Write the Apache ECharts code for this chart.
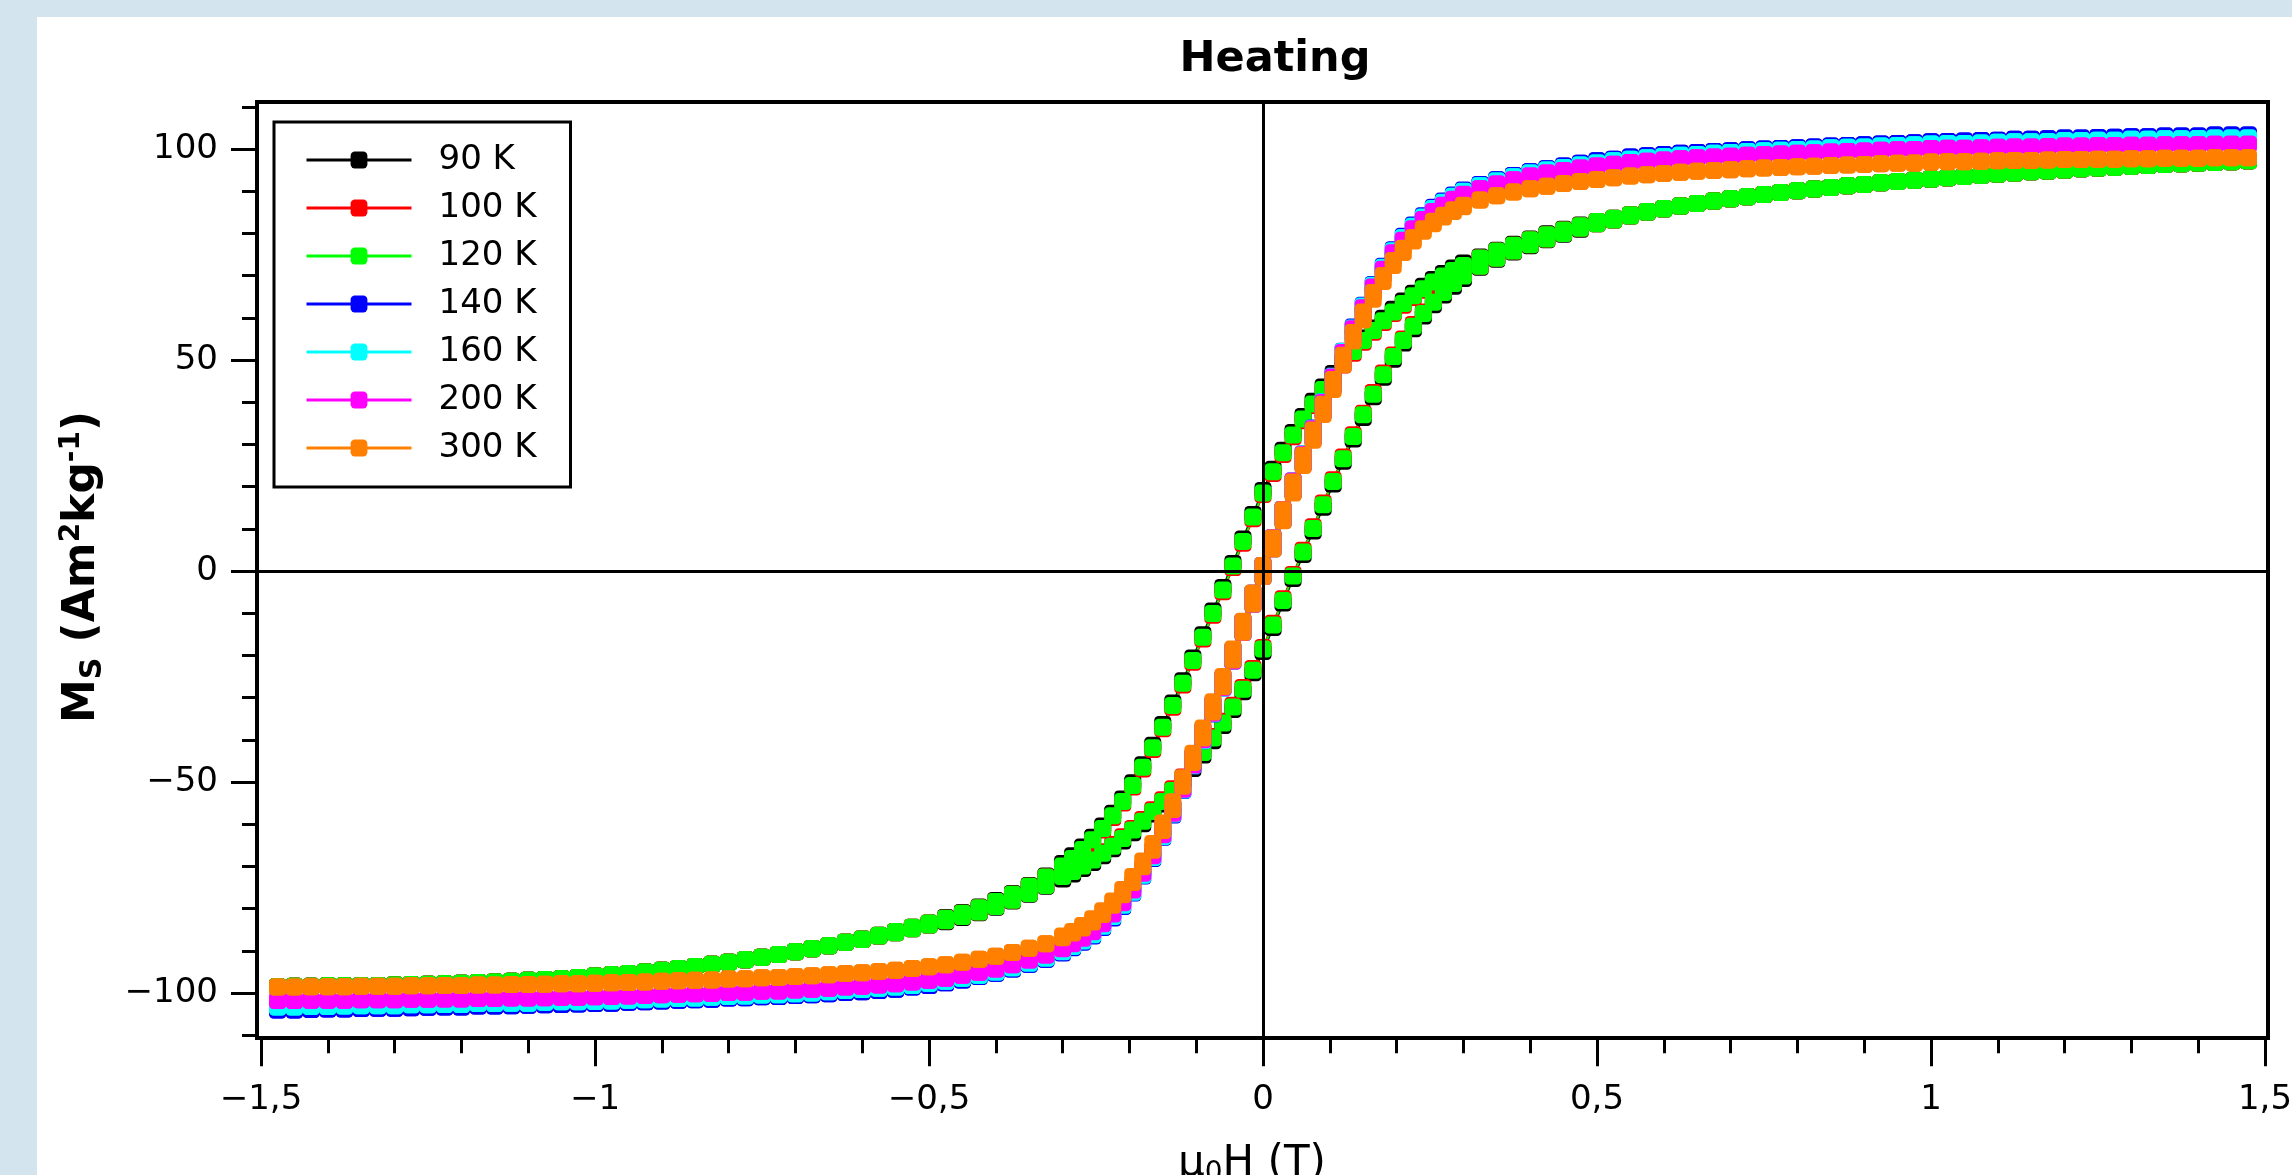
<!DOCTYPE html>
<html>
<head>
<meta charset="utf-8">
<script src="https://cdn.jsdelivr.net/npm/echarts@6/dist/echarts.min.js"></script>
<style>
html,body{margin:0;padding:0;background:#ffffff;}
#chart{width:2292px;height:1175px;}
</style>
</head>
<body>
<div id="chart"></div>
<script>
// ---------------- DATA ----------------
const temperatureLabels = ['90 K', '100 K', '120 K', '140 K', '160 K', '200 K', '300 K'];
const seriesColors = ['#000000', '#ff0000', '#00ff00', '#0000ff', '#00ffff', '#ff00ff', '#ff8000'];
const xTickStep = 0.5;
const yMajorTicks = [-100, -50, 0, 50, 100];

// applied field mu0H (T), ascending; 35 outer-negative, 65 middle, 35 outer-positive
const fieldT = [
-1.475,-1.45,-1.425,-1.4,-1.375,-1.35,-1.325,-1.3,-1.275,-1.25,-1.225,-1.2,-1.175,-1.15,-1.125,-1.1,-1.075,-1.05,-1.025,-1,
-0.975,-0.95,-0.925,-0.9,-0.875,-0.85,-0.825,-0.8,-0.775,-0.75,-0.725,-0.7,-0.675,-0.65,-0.625,
-0.6,-0.575,-0.55,-0.525,-0.5,-0.475,-0.45,-0.425,-0.4,-0.375,-0.35,-0.325,
-0.3,-0.285,-0.27,-0.255,-0.24,-0.225,-0.21,-0.195,-0.18,-0.165,-0.15,-0.135,-0.12,-0.105,-0.09,-0.075,-0.06,-0.045,-0.03,-0.015,
0,0.015,0.03,0.045,0.06,0.075,0.09,0.105,0.12,0.135,0.15,0.165,0.18,0.195,0.21,0.225,0.24,0.255,0.27,0.285,0.3,
0.325,0.35,0.375,0.4,0.425,0.45,0.475,0.5,0.525,0.55,0.575,0.6,
0.625,0.65,0.675,0.7,0.725,0.75,0.775,0.8,0.825,0.85,0.875,0.9,0.925,0.95,0.975,1,1.025,1.05,1.075,1.1,1.125,1.15,1.175,1.2,1.225,1.25,1.275,1.3,1.325,1.35,1.375,1.4,1.425,1.45,1.475
];

// ----- 90 K -----
const m90kOuterNeg = [-98.5,-98.4,-98.4,-98.3,-98.3,-98.2,-98.2,-98.1,-98.0,-97.9,-97.8,-97.7,-97.5,-97.4,-97.2,-97.0,-96.8,-96.6,-96.3,-96.0,-95.7,-95.4,-95.0,-94.6,-94.2,-93.7,-93.2,-92.7,-92.1,-91.5,-90.9,-90.2,-89.5,-88.8,-88.0];
const m90kDescMid = [-87.2,-86.3,-85.4,-84.4,-83.4,-82.1,-80.9,-79.6,-78.1,-76.4,-74.5,-72.3,
-69.3,-67.5,-65.4,-63.1,-60.4,-57.4,-54.0,-50.2,-45.9,-41.3,-36.4,-31.3,-26.0,-20.6,-15.1,-9.5,-3.9,1.8,7.6,13.4,
19.1,24.1,28.6,32.8,36.6,40.2,43.6,46.8,49.8,52.6,55.2,57.6,59.9,62.0,64.0,65.8,67.5,69.1,70.5,71.8,73.0,
74.4,76.0,77.4,78.7,79.9,81.0,82.0,82.8,83.6,84.4,85.2,85.9];
const m90kAscMid = [-87.3,-86.5,-85.7,-84.8,-83.9,-83.1,-82.1,-81.0,-79.7,-78.2,-76.6,-74.7,
-73.0,-71.8,-70.5,-69.1,-67.5,-65.8,-64.0,-62.0,-59.9,-57.6,-55.2,-52.6,-49.8,-46.8,-43.6,-40.2,-36.6,-32.8,-28.6,-24.1,
-19.1,-13.4,-7.6,-1.8,3.9,9.5,15.1,20.6,26.0,31.3,36.4,41.3,45.9,50.2,54.0,57.4,60.4,63.1,65.4,67.5,69.3,
72.0,73.9,75.6,77.1,78.5,79.8,81.0,82.3,83.2,84.1,85.0,85.8];
const m90kOuterPos = [86.5,87.1,87.7,88.2,88.7,89.2,89.7,90.1,90.5,90.9,91.3,91.6,92.0,92.3,92.6,92.9,93.2,93.5,93.8,94.1,94.3,94.6,94.8,95.0,95.3,95.5,95.7,95.9,96.1,96.3,96.5,96.7,96.8,97.0,97.2];

// ----- 100 K -----
const m100kOuterNeg = [-98.5,-98.4,-98.4,-98.3,-98.3,-98.2,-98.2,-98.1,-98.0,-97.9,-97.8,-97.7,-97.5,-97.4,-97.2,-97.0,-96.8,-96.6,-96.3,-96.0,-95.7,-95.4,-95.0,-94.6,-94.2,-93.7,-93.2,-92.7,-92.1,-91.5,-90.9,-90.2,-89.5,-88.8,-88.0];
const m100kDescMid = [-87.2,-86.3,-85.4,-84.4,-83.4,-82.3,-81.1,-79.8,-78.3,-76.6,-74.7,-72.5,
-70.3,-68.5,-66.4,-64.1,-61.4,-58.4,-55.0,-51.2,-46.9,-42.3,-37.4,-32.3,-27.0,-21.6,-16.1,-10.5,-4.9,0.8,6.6,12.4,
18.1,23.1,27.6,31.8,35.6,39.2,42.6,45.8,48.8,51.6,54.2,56.6,58.9,61.0,63.0,64.8,66.5,68.1,69.5,70.8,72.0,
74.2,75.8,77.2,78.5,79.7,80.8,81.8,82.8,83.6,84.4,85.2,85.9];
const m100kAscMid = [-87.3,-86.5,-85.7,-84.8,-83.9,-82.9,-81.9,-80.8,-79.5,-78.0,-76.4,-74.5,
-72.0,-70.8,-69.5,-68.1,-66.5,-64.8,-63.0,-61.0,-58.9,-56.6,-54.2,-51.6,-48.8,-45.8,-42.6,-39.2,-35.6,-31.8,-27.6,-23.1,
-18.1,-12.4,-6.6,-0.8,4.9,10.5,16.1,21.6,27.0,32.3,37.4,42.3,46.9,51.2,55.0,58.4,61.4,64.1,66.4,68.5,70.3,
72.2,74.1,75.8,77.3,78.7,80.0,81.2,82.3,83.2,84.1,85.0,85.8];
const m100kOuterPos = [86.5,87.1,87.7,88.2,88.7,89.2,89.7,90.1,90.5,90.9,91.3,91.6,92.0,92.3,92.6,92.9,93.2,93.5,93.8,94.1,94.3,94.6,94.8,95.0,95.3,95.5,95.7,95.9,96.1,96.3,96.5,96.7,96.8,97.0,97.2];

// ----- 120 K -----
const m120kOuterNeg = [-98.5,-98.4,-98.4,-98.3,-98.3,-98.2,-98.2,-98.1,-98.0,-97.9,-97.8,-97.7,-97.5,-97.4,-97.2,-97.0,-96.8,-96.6,-96.3,-96.0,-95.7,-95.4,-95.0,-94.6,-94.2,-93.7,-93.2,-92.7,-92.1,-91.5,-90.9,-90.2,-89.5,-88.8,-88.0];
const m120kDescMid = [-87.2,-86.3,-85.4,-84.4,-83.4,-82.3,-81.1,-79.8,-78.3,-76.6,-74.7,-72.5,
-69.9,-68.1,-66.0,-63.7,-61.0,-58.0,-54.6,-50.8,-46.5,-41.9,-37.0,-31.9,-26.6,-21.2,-15.7,-10.1,-4.5,1.2,7.0,12.8,
18.5,23.5,28.0,32.2,36.0,39.6,43.0,46.2,49.2,52.0,54.6,57.0,59.3,61.4,63.4,65.2,66.9,68.5,69.9,71.2,72.4,
74.2,75.8,77.2,78.5,79.7,80.8,81.8,82.8,83.6,84.4,85.2,85.9];
const m120kAscMid = [-87.3,-86.5,-85.7,-84.8,-83.9,-82.9,-81.9,-80.8,-79.5,-78.0,-76.4,-74.5,
-72.4,-71.2,-69.9,-68.5,-66.9,-65.2,-63.4,-61.4,-59.3,-57.0,-54.6,-52.0,-49.2,-46.2,-43.0,-39.6,-36.0,-32.2,-28.0,-23.5,
-18.5,-12.8,-7.0,-1.2,4.5,10.1,15.7,21.2,26.6,31.9,37.0,41.9,46.5,50.8,54.6,58.0,61.0,63.7,66.0,68.1,69.9,
72.2,74.1,75.8,77.3,78.7,80.0,81.2,82.3,83.2,84.1,85.0,85.8];
const m120kOuterPos = [86.5,87.1,87.7,88.2,88.7,89.2,89.7,90.1,90.5,90.9,91.3,91.6,92.0,92.3,92.6,92.9,93.2,93.5,93.8,94.1,94.3,94.6,94.8,95.0,95.3,95.5,95.7,95.9,96.1,96.3,96.5,96.7,96.8,97.0,97.2];

// ----- 140 K -----
const m140kOuterNeg = [-104.0,-104.0,-103.9,-103.8,-103.8,-103.7,-103.6,-103.6,-103.5,-103.4,-103.3,-103.3,-103.1,-103.1,-103.0,-102.9,-102.8,-102.7,-102.6,-102.5,-102.4,-102.2,-102.1,-101.9,-101.7,-101.6,-101.5,-101.2,-101.1,-100.9,-100.8,-100.6,-100.4,-100.2,-99.9];
const m140kDescMid = [-99.7,-99.4,-99.1,-98.6,-98.2,-97.6,-96.9,-96.1,-95.3,-94.3,-93.2,-92.0,
-90.1,-88.9,-87.4,-85.7,-83.6,-81.2,-78.3,-74.9,-70.9,-66.5,-61.3,-56.0,-50.0,-44.0,-37.8,-31.5,-25.3,-18.7,-12.0,-5.3,
1.3,7.9,14.6,21.3,27.7,33.9,40.1,46.2,52.1,57.8,63.0,67.9,72.2,76.1,79.3,82.0,84.2,86.2,87.7,89.1,90.3,
91.6,92.7,93.7,94.6,95.3,96.0,96.6,97.2,97.6,98.1,98.4,98.7];
const m140kAscMid = [-99.7,-99.4,-99.1,-98.6,-98.2,-97.6,-96.9,-96.1,-95.3,-94.3,-93.2,-92.0,
-90.5,-89.3,-88.0,-86.5,-84.5,-82.2,-79.5,-76.3,-72.3,-68.1,-63.1,-57.8,-52.0,-46.2,-40.2,-33.9,-27.7,-21.3,-14.6,-7.9,
-1.3,5.3,12.0,18.7,25.3,31.5,37.7,43.8,49.9,55.8,61.1,66.3,70.8,74.9,78.3,81.2,83.6,85.6,87.3,88.7,89.9,
91.6,92.7,93.7,94.6,95.3,96.0,96.6,97.2,97.6,98.1,98.4,98.7];
const m140kOuterPos = [99.0,99.2,99.4,99.6,99.8,100.0,100.1,100.3,100.5,100.7,100.8,101.0,101.2,101.3,101.5,101.7,101.8,101.9,102.0,102.1,102.3,102.3,102.4,102.6,102.6,102.7,102.8,102.9,102.9,103.1,103.1,103.1,103.3,103.3,103.3];

// ----- 160 K -----
const m160kOuterNeg = [-103.3,-103.3,-103.2,-103.2,-103.1,-103.0,-103.0,-103.0,-102.8,-102.8,-102.7,-102.7,-102.5,-102.5,-102.4,-102.4,-102.2,-102.1,-102.1,-102.0,-101.9,-101.7,-101.6,-101.4,-101.3,-101.2,-101.0,-100.8,-100.7,-100.5,-100.4,-100.2,-100.0,-99.7,-99.4];
const m160kDescMid = [-99.2,-98.9,-98.6,-98.2,-97.7,-97.2,-96.5,-95.8,-95.0,-94.0,-92.9,-91.7,
-89.8,-88.6,-87.1,-85.4,-83.3,-80.9,-78.0,-74.7,-70.7,-66.3,-61.1,-55.8,-49.9,-43.9,-37.8,-31.4,-25.3,-18.7,-12.0,-5.3,
1.3,7.9,14.6,21.3,27.7,33.8,40.1,46.1,52.0,57.6,62.8,67.7,72.0,75.9,79.0,81.7,83.9,85.9,87.4,88.8,90.0,
91.3,92.4,93.4,94.3,95.0,95.6,96.2,96.7,97.2,97.6,97.9,98.2];
const m160kAscMid = [-99.2,-98.9,-98.6,-98.2,-97.7,-97.2,-96.5,-95.8,-95.0,-94.0,-92.9,-91.7,
-90.2,-89.0,-87.7,-86.2,-84.2,-81.9,-79.2,-76.1,-72.1,-67.9,-62.9,-57.6,-51.9,-46.1,-40.2,-33.8,-27.7,-21.3,-14.6,-7.9,
-1.3,5.3,12.0,18.7,25.3,31.4,37.7,43.7,49.8,55.6,60.9,66.1,70.6,74.7,78.0,80.9,83.3,85.3,87.0,88.4,89.6,
91.3,92.4,93.4,94.3,95.0,95.6,96.2,96.7,97.2,97.6,97.9,98.2];
const m160kOuterPos = [98.5,98.7,99.0,99.2,99.4,99.6,99.7,99.9,100.0,100.3,100.4,100.5,100.7,100.8,101.0,101.2,101.3,101.3,101.4,101.6,101.7,101.7,101.8,102.0,102.0,102.1,102.1,102.3,102.3,102.4,102.4,102.5,102.6,102.6,102.6];

// ----- 200 K -----
const m200kOuterNeg = [-101.8,-101.8,-101.7,-101.7,-101.7,-101.6,-101.6,-101.6,-101.5,-101.5,-101.4,-101.4,-101.3,-101.3,-101.2,-101.2,-101.1,-101.0,-101.0,-100.9,-100.8,-100.7,-100.6,-100.4,-100.3,-100.2,-100.1,-99.9,-99.8,-99.6,-99.5,-99.3,-99.1,-98.9,-98.6];
const m200kDescMid = [-98.4,-98.1,-97.8,-97.4,-97.0,-96.5,-95.8,-95.1,-94.3,-93.3,-92.2,-91.0,
-89.1,-87.9,-86.4,-84.7,-82.7,-80.3,-77.4,-74.2,-70.2,-65.9,-60.7,-55.6,-49.7,-43.8,-37.6,-31.3,-25.2,-18.7,-12.0,-5.3,
1.3,7.9,14.6,21.3,27.6,33.7,39.9,46.0,51.8,57.4,62.4,67.3,71.5,75.4,78.4,81.1,83.3,85.2,86.7,88.1,89.3,
90.6,91.7,92.7,93.6,94.3,94.9,95.5,96.0,96.4,96.8,97.1,97.4];
const m200kAscMid = [-98.4,-98.1,-97.8,-97.4,-97.0,-96.5,-95.8,-95.1,-94.3,-93.3,-92.2,-91.0,
-89.5,-88.3,-87.0,-85.5,-83.6,-81.3,-78.6,-75.6,-71.6,-67.5,-62.5,-57.4,-51.7,-46.0,-40.0,-33.7,-27.6,-21.3,-14.6,-7.9,
-1.3,5.3,12.0,18.7,25.2,31.3,37.5,43.6,49.6,55.4,60.5,65.7,70.1,74.2,77.4,80.3,82.7,84.6,86.3,87.7,88.9,
90.6,91.7,92.7,93.6,94.3,94.9,95.5,96.0,96.4,96.8,97.1,97.4];
const m200kOuterPos = [97.7,97.9,98.1,98.3,98.5,98.7,98.8,99.0,99.1,99.3,99.4,99.5,99.7,99.8,99.9,100.1,100.2,100.2,100.3,100.4,100.5,100.5,100.6,100.7,100.7,100.8,100.8,100.9,100.9,101.0,101.0,101.0,101.1,101.1,101.1];

// ----- 300 K -----
const m300kOuterNeg = [-98.6,-98.6,-98.5,-98.5,-98.5,-98.4,-98.4,-98.4,-98.3,-98.3,-98.2,-98.2,-98.1,-98.1,-98.0,-98.0,-97.9,-97.8,-97.8,-97.7,-97.6,-97.5,-97.4,-97.2,-97.1,-97.0,-96.9,-96.7,-96.6,-96.4,-96.3,-96.1,-95.9,-95.7,-95.4];
const m300kDescMid = [-95.2,-94.9,-94.6,-94.2,-93.8,-93.3,-92.7,-92.0,-91.3,-90.4,-89.4,-88.3,
-86.5,-85.4,-84.0,-82.4,-80.5,-78.2,-75.5,-72.4,-68.7,-64.6,-59.7,-54.7,-49.0,-43.2,-37.2,-31.0,-25.0,-18.5,-11.9,-5.2,
1.3,7.8,14.5,21.1,27.4,33.4,39.5,45.4,51.1,56.5,61.4,66.0,70.0,73.6,76.5,79.0,81.1,82.9,84.3,85.6,86.7,
87.9,88.9,89.8,90.6,91.2,91.8,92.3,92.8,93.2,93.6,93.9,94.2];
const m300kAscMid = [-95.2,-94.9,-94.6,-94.2,-93.8,-93.3,-92.7,-92.0,-91.3,-90.4,-89.4,-88.3,
-86.9,-85.8,-84.6,-83.2,-81.4,-79.2,-76.7,-73.8,-70.1,-66.2,-61.5,-56.5,-51.0,-45.4,-39.6,-33.4,-27.4,-21.1,-14.5,-7.8,
-1.3,5.2,11.9,18.5,25.0,31.0,37.1,43.0,48.9,54.5,59.5,64.4,68.6,72.4,75.5,78.2,80.5,82.3,83.9,85.2,86.3,
87.9,88.9,89.8,90.6,91.2,91.8,92.3,92.8,93.2,93.6,93.9,94.2];
const m300kOuterPos = [94.5,94.7,94.9,95.1,95.3,95.5,95.6,95.8,95.9,96.1,96.2,96.3,96.5,96.6,96.7,96.9,97.0,97.0,97.1,97.2,97.3,97.3,97.4,97.5,97.5,97.6,97.6,97.7,97.7,97.8,97.8,97.8,97.9,97.9,97.9];

// ---------------- BUILD ----------------
const loopParts = [
  [m90kOuterNeg, m90kDescMid, m90kAscMid, m90kOuterPos],
  [m100kOuterNeg, m100kDescMid, m100kAscMid, m100kOuterPos],
  [m120kOuterNeg, m120kDescMid, m120kAscMid, m120kOuterPos],
  [m140kOuterNeg, m140kDescMid, m140kAscMid, m140kOuterPos],
  [m160kOuterNeg, m160kDescMid, m160kAscMid, m160kOuterPos],
  [m200kOuterNeg, m200kDescMid, m200kAscMid, m200kOuterPos],
  [m300kOuterNeg, m300kDescMid, m300kAscMid, m300kOuterPos]
];

function branch(values) {
  if (values.length !== fieldT.length) throw new Error('length mismatch ' + values.length);
  return fieldT.map((h, i) => [h, values[i]]);
}
function loopPoints(p) {
  const desc = branch(p[0].concat(p[1], p[3])).reverse(); // +H -> -H
  const asc = branch(p[0].concat(p[2], p[3]));            // -H -> +H
  return desc.concat(asc);
}
function decimalComma(v) {
  const r = Math.round(v * 10) / 10;
  const s = String(Math.abs(r)).replace('.', ',');
  return (r < 0 ? '\u2212' : '') + s;
}

const FONT = 'DejaVu Sans';
const chart = echarts.init(document.getElementById('chart'), null, {renderer: 'canvas'});

const series = temperatureLabels.map((name, i) => ({
  name: name,
  type: 'line',
  xAxisIndex: 0,
  yAxisIndex: 0,
  data: loopPoints(loopParts[i]),
  symbol: 'roundRect',
  symbolSize: 17,
  showSymbol: true,
  lineStyle: {color: seriesColors[i], width: 2},
  itemStyle: {color: seriesColors[i], borderWidth: 0},
  emphasis: {disabled: true},
  silent: true,
  animation: false
}));

const tickStyle = {color: '#000', width: 3};
const option = {
  animation: false,
  backgroundColor: '#ffffff',
  textStyle: {fontFamily: FONT},
  grid: {left: 261, right: 27, top: 106.8, bottom: 139.8, show: false, outerBoundsMode: 'none'},
  legend: {
    orient: 'vertical',
    left: 274, top: 122,
    padding: [21, 34, 22, 31],
    itemWidth: 105, itemHeight: 21, itemGap: 14,
    backgroundColor: '#ffffff', borderColor: '#000000', borderWidth: 3, borderRadius: 0,
    textStyle: {fontFamily: FONT, fontSize: 34, color: '#000', lineHeight: 34, padding: [0, 0, 0, 22]},
    lineStyle: {width: 3},
    selectedMode: false,
    data: temperatureLabels
  },
  xAxis: {
    type: 'value', min: -1.5, max: 1.5, interval: xTickStep,
    position: 'bottom', offset: 3,
    axisLine: {show: false, onZero: false}, splitLine: {show: false},
    axisTick: {show: true, inside: false, length: 28, lineStyle: tickStyle},
    minorTick: {show: true, splitNumber: 5, length: 15, lineStyle: tickStyle},
    axisLabel: {show: true, margin: 45, fontSize: 34, fontFamily: FONT, color: '#000', formatter: decimalComma}
  },
  yAxis: [
    {
      type: 'value', min: -110, max: 110, interval: 10,
      position: 'left', offset: 4,
      axisLine: {show: false, onZero: false}, splitLine: {show: false},
      axisTick: {show: true, length: 15, lineStyle: tickStyle},
      axisLabel: {show: false}
    },
    {
      type: 'value', min: -110, max: 110,
      position: 'left', offset: 4,
      axisLine: {show: false, onZero: false}, splitLine: {show: false},
      axisTick: {show: true, length: 26, lineStyle: tickStyle, customValues: yMajorTicks},
      axisLabel: {show: true, margin: 39, fontSize: 34, fontFamily: FONT, color: '#000', formatter: decimalComma, customValues: yMajorTicks}
    }
  ],
  series: series
};
chart.setOption(option);

// frame, zero lines and texts
const frame = {left: 257, top: 102, right: 2268, bottom: 1038};
const x0 = Math.round(chart.convertToPixel({xAxisIndex: 0}, 0)) + 0.5;
const y0 = Math.round(chart.convertToPixel({yAxisIndex: 0}, 0)) + 0.5;
const bg = '#d3e4ee';
chart.setOption({
  graphic: [
    {type: 'rect', silent: true, z: 0, shape: {x: 0, y: 0, width: 37, height: 1175}, style: {fill: bg}},
    {type: 'rect', silent: true, z: 0, shape: {x: 0, y: 0, width: 2292, height: 17}, style: {fill: bg}},
    {type: 'rect', silent: true, z: 60, shape: {x: frame.left, y: frame.top, width: frame.right - frame.left, height: frame.bottom - frame.top}, style: {fill: 'none', stroke: '#000', lineWidth: 4}},
    {type: 'line', silent: true, z: 60, shape: {x1: x0, y1: frame.top, x2: x0, y2: frame.bottom}, style: {stroke: '#000', lineWidth: 3}},
    {type: 'line', silent: true, z: 60, shape: {x1: frame.left, y1: y0, x2: frame.right, y2: y0}, style: {stroke: '#000', lineWidth: 3}},
    {type: 'text', silent: true, z: 60, x: 1275, y: 60,
      style: {text: 'Heating', font: 'bold 43px "DejaVu Sans"', fill: '#000', align: 'center', verticalAlign: 'middle'}},
    {type: 'text', silent: true, z: 60, x: 83, y: 567, rotation: Math.PI / 2,
      style: {
        text: '{b|M}{s|S}{b| (Am}{p|2}{b|kg}{p|-1}{b|)}',
        align: 'center', verticalAlign: 'middle',
        rich: {
          b: {fontFamily: FONT, fontWeight: 'bold', fontSize: 44, lineHeight: 50, fill: '#000'},
          s: {fontFamily: FONT, fontWeight: 'bold', fontSize: 30, lineHeight: 30, verticalAlign: 'bottom', fill: '#000'},
          p: {fontFamily: FONT, fontWeight: 'bold', fontSize: 28, lineHeight: 28, verticalAlign: 'top', fill: '#000'}
        }
      }},
    {type: 'text', silent: true, z: 60, x: 1252, y: 1164,
      style: {
        text: '{b|\u03bc}{s|0}{b|H (T)}',
        align: 'center', verticalAlign: 'middle',
        rich: {
          b: {fontFamily: FONT, fontWeight: 'normal', fontSize: 42, lineHeight: 48, fill: '#000'},
          s: {fontFamily: FONT, fontWeight: 'normal', fontSize: 28, lineHeight: 28, verticalAlign: 'bottom', fill: '#000'}
        }
      }}
  ]
});
</script>
</body>
</html>
